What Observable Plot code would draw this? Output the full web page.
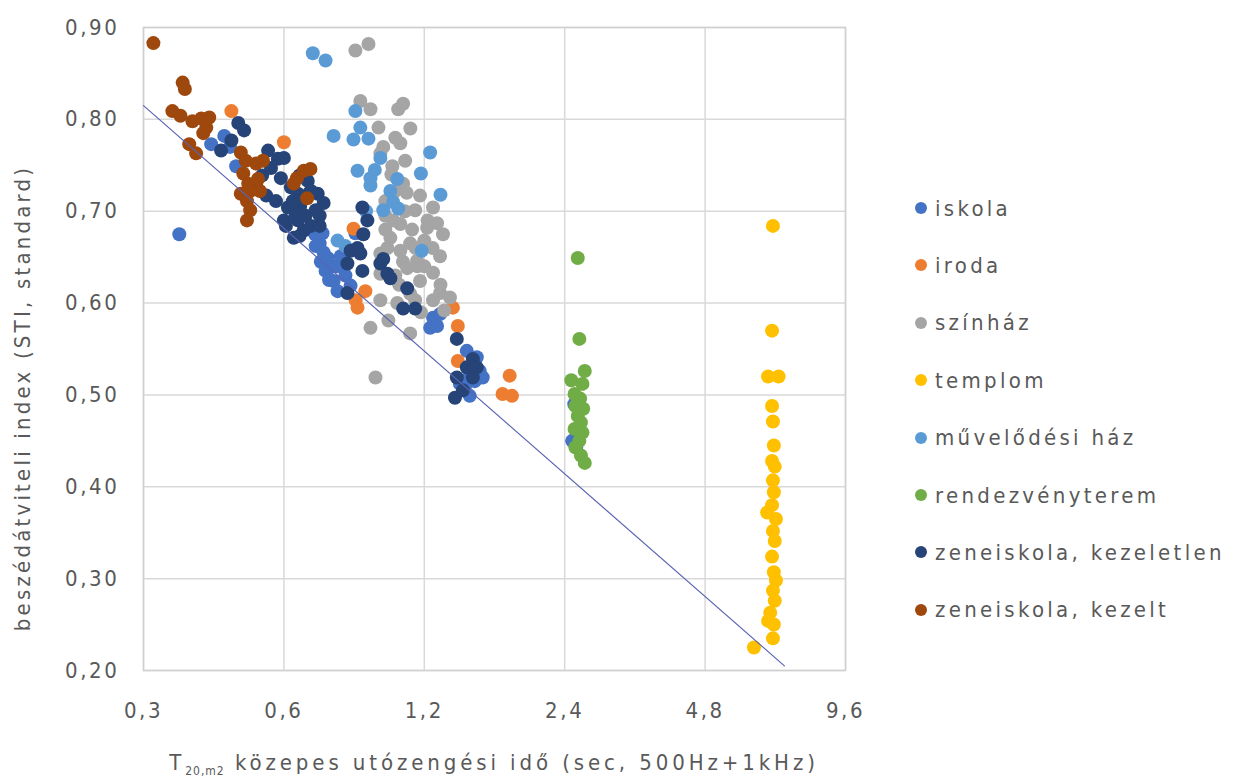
<!DOCTYPE html>
<html>
<head>
<meta charset="utf-8">
<script src="https://cdn.jsdelivr.net/npm/d3@7"></script>
<script src="https://cdn.jsdelivr.net/npm/@observablehq/plot@0.6"></script>
<style>
  body { margin: 0; background: #fff; }
  #wrap { position: relative; width: 1234px; height: 782px; background: #fff;
    font-family: "DejaVu Sans Condensed", "DejaVu Sans", sans-serif; color: #595959; }
  #chart { position: absolute; left: 0; top: 0; }
  #legend { position: absolute; left: 915px; top: 0; }
  .item { position: absolute; display: flex; align-items: center; height: 28px; white-space: nowrap;
    font-size: 22px; letter-spacing: 3.3px; }
  .sw { width: 12px; height: 12px; border-radius: 50%; margin-right: 8px; }
  #xlabel { position: absolute; left: 143px; width: 702px; top: 750px; text-align: center;
    font-size: 22px; letter-spacing: 3.9px; white-space: nowrap; }
  #xlabel sub { font-size: 12px; letter-spacing: 1px; }
  #ylabel { position: absolute; left: 22px; top: 398px; width: 0; height: 0; }
  #ylabel span { position: absolute; left: 0; top: 0; white-space: nowrap; font-size: 22px;
    letter-spacing: 3.2px; transform: translate(-50%, -50%) rotate(-90deg); }
</style>
</head>
<body>
<div id="wrap">
  <div id="chart"></div>
  <div id="legend"></div>
  <div id="ylabel"><span>beszédátviteli index (STI, standard)</span></div>
  <div id="xlabel">T<sub>20,m2</sub> közepes utózengési idő (sec, 500Hz+1kHz)</div>
</div>
<script>
const categories = ["iskola", "iroda", "színház", "templom", "művelődési ház", "rendezvényterem", "zeneiskola, kezeletlen", "zeneiskola, kezelt"];
const colors = ["#4472C4", "#ED7D31", "#A5A5A5", "#FFC000", "#5B9BD5", "#70AD47", "#264478", "#9E480E"];

const xTicks = [0.3, 0.6, 1.2, 2.4, 4.8, 9.6];
const yTicks = [0.2, 0.3, 0.4, 0.5, 0.6, 0.7, 0.8, 0.9];

// trend line endpoints (x, y)
const trendX = [0.3, 7.1];
const trendY = [0.815, 0.205];

const iskola = [[0.358,0.675],[0.419,0.773],[0.447,0.782],[0.474,0.749],[0.745,0.649],[0.716,0.665],[0.756,0.639],[0.767,0.624],[0.794,0.651],[0.813,0.630],[0.782,0.613],[0.702,0.662],[0.726,0.676],[0.854,0.676],[1.253,0.584],[1.297,0.588],[1.235,0.573],[1.278,0.575],[1.480,0.548],[1.555,0.541],[1.578,0.526],[1.601,0.519],[1.431,0.512],[1.466,0.508],[1.502,0.499],[2.516,0.490],[2.49,0.450],[2.54,0.443],[0.737,0.635],[0.834,0.619],[0.46,0.77],[0.73,0.655],[0.72,0.645],[0.75,0.625],[0.78,0.64],[0.70,0.675],[1.50,0.52],[1.54,0.515]];
const iroda = [[0.463,0.809],[0.600,0.775],[0.897,0.613],[0.863,0.595],[1.382,0.595],[1.416,0.575],[1.416,0.537],[1.829,0.521],[1.766,0.501],[1.85,0.499],[0.846,0.681],[0.855,0.603]];
const szinhaz = [[0.854,0.875],[0.911,0.882],[0.875,0.820],[0.920,0.811],[1.055,0.811],[1.081,0.817],[0.957,0.791],[1.066,0.774],[0.966,0.763],[1.025,0.749],[1.081,0.730],[1.147,0.701],[1.253,0.704],[1.278,0.687],[1.217,0.682],[1.066,0.686],[1.015,0.671],[1.066,0.657],[1.297,0.651],[1.158,0.646],[0.966,0.654],[1.119,0.665],[1.253,0.633],[0.966,0.632],[1.103,0.638],[1.297,0.611],[1.362,0.606],[1.253,0.603],[0.966,0.603],[1.005,0.581],[1.119,0.567],[0.920,0.573],[0.943,0.519],[1.316,0.675],[0.990,0.711],[1.040,0.722],[1.175,0.717],[0.990,0.695],[1.040,0.630],[1.175,0.624],[1.147,0.603],[1.324,0.592],[1.200,0.668],[1.092,0.755],[1.03,0.69],[1.09,0.70],[1.13,0.68],[1.00,0.66],[1.08,0.645],[1.15,0.66],[1.02,0.74],[0.98,0.77],[1.20,0.64],[1.06,0.62],[1.10,0.72],[1.22,0.69],[1.16,0.64],[1.25,0.66],[1.12,0.61],[1.05,0.60],[1.18,0.59],[1.30,0.62],[0.99,0.68],[1.04,0.78],[1.12,0.79]];
const templom = [[6.71,0.684],[6.68,0.570],[6.55,0.520],[6.90,0.520],[6.68,0.488],[6.71,0.471],[6.74,0.445],[6.68,0.428],[6.77,0.422],[6.71,0.407],[6.74,0.394],[6.68,0.380],[6.52,0.372],[6.81,0.365],[6.71,0.352],[6.77,0.341],[6.68,0.324],[6.74,0.307],[6.81,0.298],[6.71,0.287],[6.77,0.276],[6.62,0.263],[6.55,0.254],[6.74,0.250],[6.71,0.235],[6.11,0.225]];
const muvhaz = [[0.692,0.872],[0.737,0.864],[0.854,0.809],[0.875,0.791],[0.767,0.782],[0.846,0.778],[0.911,0.779],[0.966,0.758],[1.235,0.764],[0.863,0.744],[1.18,0.741],[0.920,0.728],[1.029,0.710],[1.015,0.722],[1.30,0.718],[1.185,0.657],[0.920,0.736],[0.782,0.668],[0.813,0.662],[0.980,0.701],[1.055,0.703],[0.94,0.745],[1.05,0.735],[0.90,0.70]];
const rendezveny = [[2.56,0.649],[2.58,0.561],[2.65,0.526],[2.48,0.516],[2.62,0.512],[2.52,0.501],[2.59,0.496],[2.53,0.488],[2.63,0.485],[2.56,0.477],[2.60,0.470],[2.52,0.463],[2.62,0.459],[2.58,0.450],[2.53,0.443],[2.60,0.434],[2.65,0.426]];
const kezeletlen = [[0.479,0.796],[0.493,0.788],[0.440,0.766],[0.463,0.777],[0.555,0.766],[0.582,0.757],[0.600,0.758],[0.563,0.747],[0.591,0.736],[0.621,0.726],[0.643,0.719],[0.675,0.733],[0.709,0.719],[0.730,0.709],[0.612,0.704],[0.643,0.690],[0.662,0.679],[0.630,0.671],[0.686,0.684],[0.648,0.739],[0.627,0.711],[0.702,0.701],[0.668,0.695],[0.716,0.684],[0.884,0.704],[0.906,0.690],[0.888,0.675],[0.863,0.660],[0.834,0.657],[0.875,0.654],[0.821,0.643],[0.884,0.635],[0.821,0.611],[0.966,0.643],[1.000,0.632],[1.015,0.627],[0.980,0.648],[1.103,0.616],[1.081,0.594],[1.147,0.594],[1.409,0.561],[1.525,0.539],[1.480,0.530],[1.555,0.530],[1.409,0.519],[1.525,0.519],[1.396,0.497],[1.452,0.505],[0.539,0.739],[0.523,0.728],[0.550,0.717],[0.577,0.711],[0.60,0.69],[0.65,0.705],[0.68,0.72],[0.648,0.711],[0.686,0.722],[0.636,0.695],[0.606,0.684],[0.648,0.673],[0.716,0.695]];
const kezelt = [[0.315,0.883],[0.364,0.840],[0.368,0.833],[0.346,0.809],[0.360,0.804],[0.382,0.798],[0.399,0.801],[0.415,0.802],[0.409,0.791],[0.403,0.785],[0.376,0.773],[0.389,0.763],[0.485,0.764],[0.497,0.755],[0.523,0.752],[0.541,0.755],[0.491,0.741],[0.503,0.730],[0.485,0.719],[0.500,0.711],[0.508,0.701],[0.500,0.690],[0.533,0.722],[0.630,0.730],[0.640,0.736],[0.662,0.744],[0.684,0.746],[0.673,0.714],[0.528,0.735],[0.508,0.722]];

const seriesData = [iskola, iroda, szinhaz, templom, muvhaz, rendezveny, kezeletlen, kezelt];
const points = seriesData.flatMap((arr, i) => arr.map(([x, y]) => ({x, y, cat: categories[i]})));
const trend = trendX.map((x, i) => ({x, y: trendY[i]}));

const fx = d => String(d).replace(".", ",");
const fy = d => d.toFixed(2).replace(".", ",");
const font = '"DejaVu Sans Condensed", "DejaVu Sans", sans-serif';

const chart = Plot.plot({
  width: 880,
  height: 740,
  marginLeft: 143,
  marginRight: 35,
  marginTop: 27,
  marginBottom: 70,
  style: {fontFamily: font, fontSize: "22px", color: "#595959", background: "#fff", letterSpacing: "2.6px"},
  x: {type: "log", base: 2, domain: [0.3, 9.6]},
  y: {domain: [0.2, 0.9]},
  color: {domain: categories, range: colors},
  marks: [
    Plot.gridX(xTicks, {stroke: "#d9d9d9", strokeOpacity: 1, strokeWidth: 1.5}),
    Plot.gridY(yTicks, {stroke: "#d9d9d9", strokeOpacity: 1, strokeWidth: 1.5}),
    Plot.frame({stroke: "#d0d0d0", strokeWidth: 1.5}),
    Plot.axisX(xTicks, {tickSize: 0, tickPadding: 32, tickFormat: fx, label: null, fontSize: 22}),
    Plot.axisY(yTicks, {tickSize: 0, tickPadding: 24, tickFormat: fy, fontSize: 22, label: null}),
    Plot.dot(points, {x: "x", y: "y", fill: "cat", r: 7}),
    Plot.line(trend, {x: "x", y: "y", stroke: "#5a64b4", strokeWidth: 1.2})
  ]
});
document.getElementById("chart").appendChild(chart);

const legend = document.getElementById("legend");
categories.forEach((c, i) => {
  const d = document.createElement("div");
  d.className = "item";
  d.style.top = (208 + i * 57.4 - 14) + "px";
  d.innerHTML = `<span class="sw" style="background:${colors[i]}"></span><span>${c}</span>`;
  legend.appendChild(d);
});
</script>
</body>
</html>
